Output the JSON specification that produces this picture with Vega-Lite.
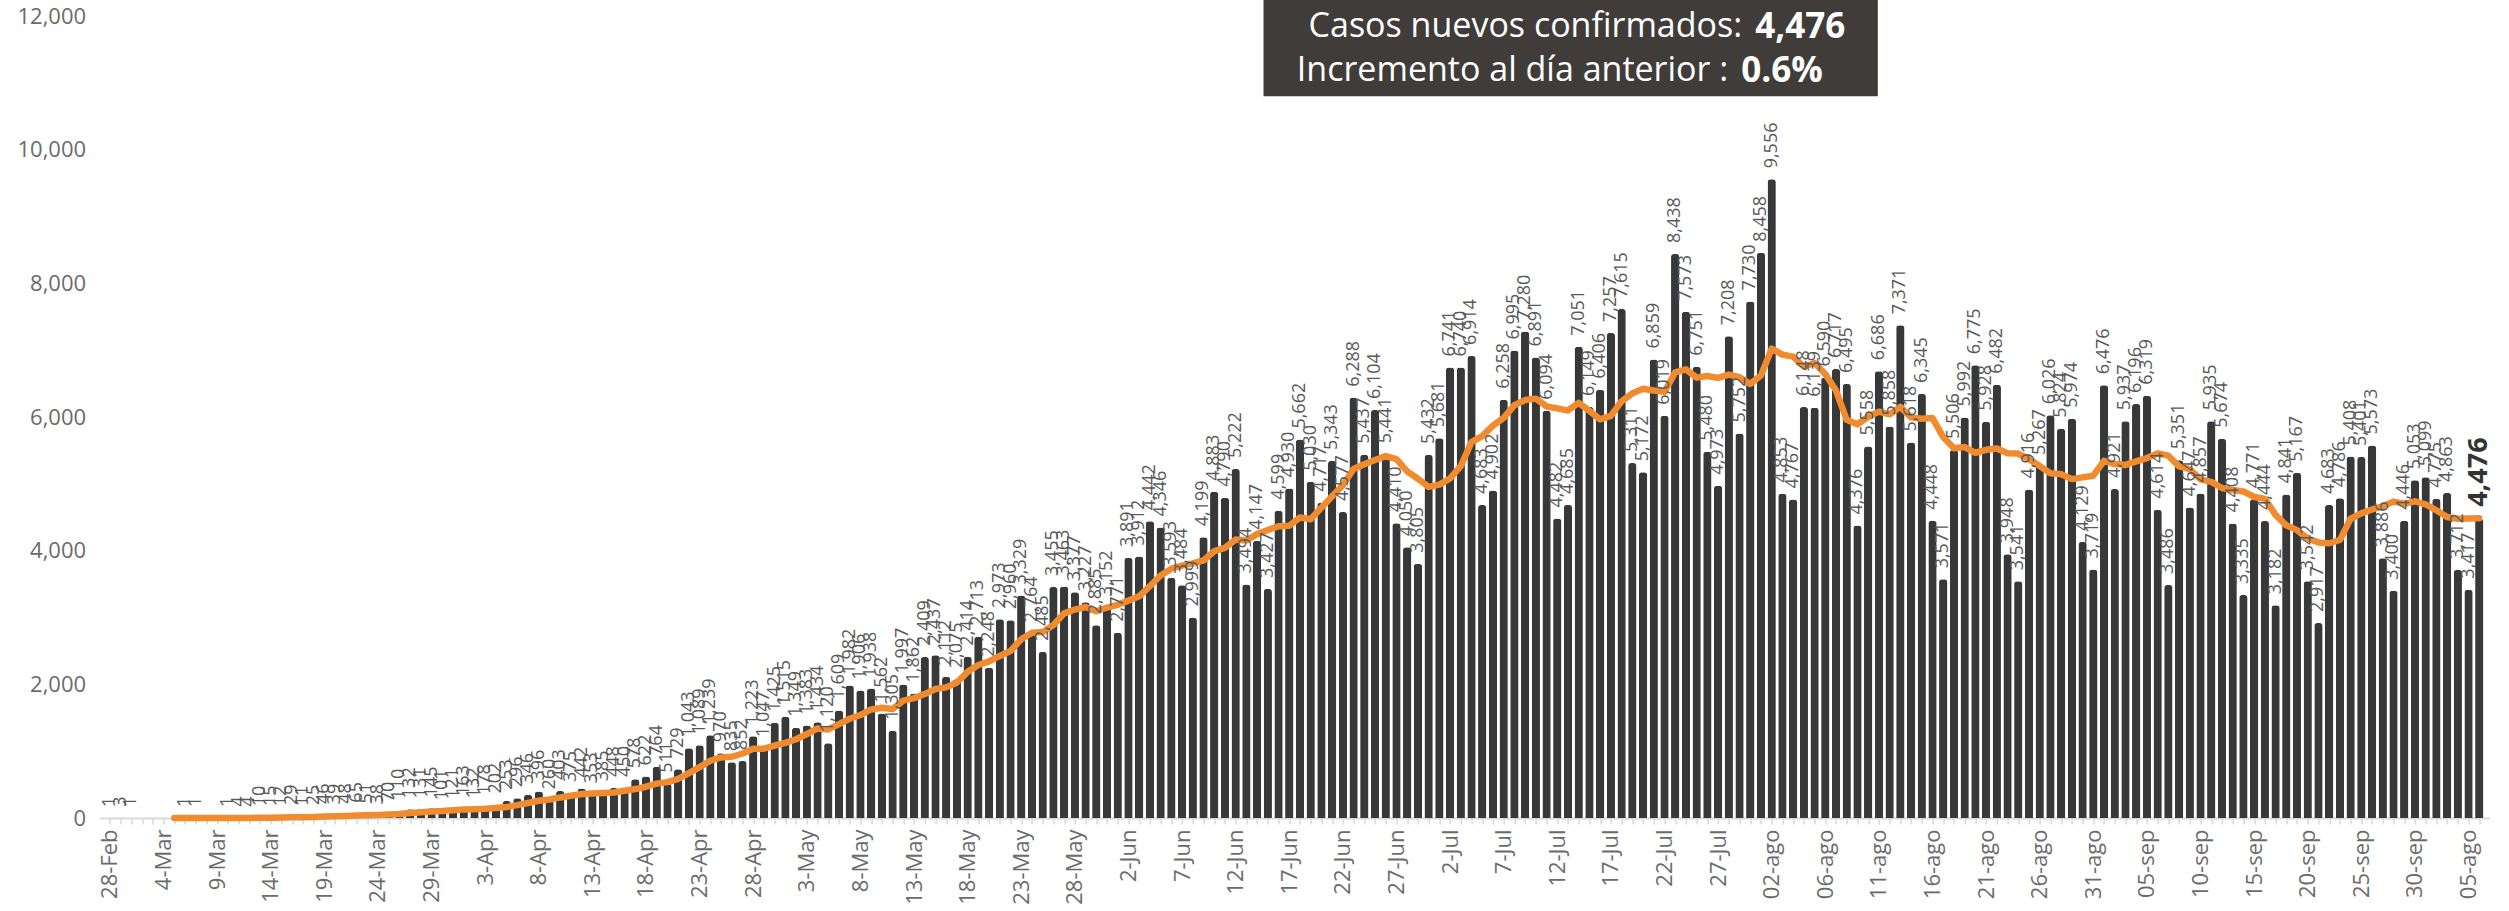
{
"$schema": "https://vega.github.io/schema/vega-lite/v6.json",
"width": 2390, "height": 802,
"autosize": {"type": "none"},
"padding": {"left": 99.6, "top": 16, "right": 19.4, "bottom": 93},
"background": "white",
"config": {"view": {"stroke": null}, "font": "Open Sans", "axis": {"labelOverlap": false, "grid": false}},
"datasets": {
"casos": [
{"i":0,"casos":1},{"i":1,"casos":3},{"i":2,"casos":1},{"i":3,"casos":0},{"i":4,"casos":0},{"i":5,"casos":0},
{"i":6,"casos":0,"prom":0.7},{"i":7,"casos":1,"prom":0.7},{"i":8,"casos":1,"prom":0.4},{"i":9,"casos":0,"prom":0.3},
{"i":10,"casos":0,"prom":0.3},{"i":11,"casos":1,"prom":0.4},{"i":12,"casos":4,"prom":1.0},{"i":13,"casos":4,"prom":1.6},
{"i":14,"casos":10,"prom":2.9},{"i":15,"casos":15,"prom":4.9},{"i":16,"casos":12,"prom":6.6},{"i":17,"casos":29,"prom":10.7},
{"i":18,"casos":11,"prom":12.1},{"i":19,"casos":25,"prom":15.1},{"i":20,"casos":46,"prom":21.1},{"i":21,"casos":39,"prom":25.3},
{"i":22,"casos":48,"prom":30},{"i":23,"casos":65,"prom":37.6},{"i":24,"casos":51,"prom":40.7},{"i":25,"casos":38,"prom":44.6},
{"i":26,"casos":70,"prom":51},{"i":27,"casos":110,"prom":60.1},{"i":28,"casos":132,"prom":73.4},{"i":29,"casos":131,"prom":85.3},
{"i":30,"casos":145,"prom":96.7},{"i":31,"casos":101,"prom":103.9},{"i":32,"casos":121,"prom":115.7},{"i":33,"casos":163,"prom":129},
{"i":34,"casos":132,"prom":132.1},{"i":35,"casos":178,"prom":138.7},{"i":36,"casos":202,"prom":148.9},{"i":37,"casos":253,"prom":164.3},
{"i":38,"casos":296,"prom":192.1},{"i":39,"casos":346,"prom":224.3},{"i":40,"casos":396,"prom":257.6},{"i":41,"casos":260,"prom":275.9},
{"i":42,"casos":403,"prom":308},{"i":43,"casos":375,"prom":332.7},{"i":44,"casos":442,"prom":359.7},{"i":45,"casos":353,"prom":367.9},
{"i":46,"casos":385,"prom":373.4},{"i":47,"casos":448,"prom":380.9},{"i":48,"casos":450,"prom":408},{"i":49,"casos":578,"prom":433},
{"i":50,"casos":622,"prom":468.3},{"i":51,"casos":764,"prom":514.3},{"i":52,"casos":511,"prom":536.9},{"i":53,"casos":729,"prom":586},
{"i":54,"casos":1043,"prom":671},{"i":55,"casos":1089,"prom":762.3},{"i":56,"casos":1239,"prom":856.7},{"i":57,"casos":970,"prom":906.4},
{"i":58,"casos":835,"prom":916.6},{"i":59,"casos":852,"prom":965.3},{"i":60,"casos":1223,"prom":1035.9},{"i":61,"casos":1047,"prom":1036.4},
{"i":62,"casos":1425,"prom":1084.4},{"i":63,"casos":1515,"prom":1123.9},{"i":64,"casos":1349,"prom":1178},{"i":65,"casos":1383,"prom":1256.3},
{"i":66,"casos":1434,"prom":1339.4},{"i":67,"casos":1120,"prom":1324.7},{"i":68,"casos":1609,"prom":1405},{"i":69,"casos":1982,"prom":1484.6},
{"i":70,"casos":1906,"prom":1540.4},{"i":71,"casos":1938,"prom":1624.6},{"i":72,"casos":1562,"prom":1650.1},{"i":73,"casos":1305,"prom":1631.7},
{"i":74,"casos":1997,"prom":1757},{"i":75,"casos":1862,"prom":1793.1},{"i":76,"casos":2409,"prom":1854.1},{"i":77,"casos":2437,"prom":1930},
{"i":78,"casos":2112,"prom":1954.9},{"i":79,"casos":2075,"prom":2028.1},{"i":80,"casos":2414,"prom":2186.6},{"i":81,"casos":2713,"prom":2288.9},
{"i":82,"casos":2248,"prom":2344},{"i":83,"casos":2973,"prom":2424.6},{"i":84,"casos":2960,"prom":2499.3},{"i":85,"casos":3329,"prom":2673.1},
{"i":86,"casos":2764,"prom":2771.6},{"i":87,"casos":2485,"prom":2781.7},{"i":88,"casos":3455,"prom":2887.7},{"i":89,"casos":3463,"prom":3061.3},
{"i":90,"casos":3377,"prom":3119},{"i":91,"casos":3227,"prom":3157.1},{"i":92,"casos":2885,"prom":3093.7},{"i":93,"casos":3152,"prom":3149.1},
{"i":94,"casos":2771,"prom":3190},{"i":95,"casos":3891,"prom":3252.3},{"i":96,"casos":3912,"prom":3316.4},{"i":97,"casos":4442,"prom":3468.6},
{"i":98,"casos":4346,"prom":3628.4},{"i":99,"casos":3593,"prom":3729.6},{"i":100,"casos":3484,"prom":3777},{"i":101,"casos":2999,"prom":3809.6},
{"i":102,"casos":4199,"prom":3853.6},{"i":103,"casos":4883,"prom":3992.3},{"i":104,"casos":4790,"prom":4042},{"i":105,"casos":5222,"prom":4167.1},
{"i":106,"casos":3494,"prom":4153},{"i":107,"casos":4147,"prom":4247.7},{"i":108,"casos":3427,"prom":4308.9},{"i":109,"casos":4599,"prom":4366},
{"i":110,"casos":4930,"prom":4372.7},{"i":111,"casos":5662,"prom":4497.3},{"i":112,"casos":5030,"prom":4469.9},{"i":113,"casos":4717,"prom":4644.6},
{"i":114,"casos":5343,"prom":4815.4},{"i":115,"casos":4577,"prom":4979.7},{"i":116,"casos":6288,"prom":5221},{"i":117,"casos":5437,"prom":5293.4},
{"i":118,"casos":6104,"prom":5356.6},{"i":119,"casos":5441,"prom":5415.3},{"i":120,"casos":4410,"prom":5371.4},{"i":121,"casos":4050,"prom":5186.7},
{"i":122,"casos":3805,"prom":5076.4},{"i":123,"casos":5432,"prom":4954.1},{"i":124,"casos":5681,"prom":4989},{"i":125,"casos":6741,"prom":5080},
{"i":126,"casos":6740,"prom":5265.6},{"i":127,"casos":6914,"prom":5623.3},{"i":128,"casos":4683,"prom":5713.7},{"i":129,"casos":4902,"prom":5870.4},
{"i":130,"casos":6258,"prom":5988.4},{"i":131,"casos":6995,"prom":6176.1},{"i":132,"casos":7280,"prom":6253.1},{"i":133,"casos":6891,"prom":6274.7},
{"i":134,"casos":6094,"prom":6157.6},{"i":135,"casos":4482,"prom":6128.9},{"i":136,"casos":4685,"prom":6097.9},{"i":137,"casos":7051,"prom":6211.1},
{"i":138,"casos":6149,"prom":6090.3},{"i":139,"casos":6406,"prom":5965.4},{"i":140,"casos":7257,"prom":6017.7},{"i":141,"casos":7615,"prom":6235},
{"i":142,"casos":5311,"prom":6353.4},{"i":143,"casos":5172,"prom":6423},{"i":144,"casos":6859,"prom":6395.6},{"i":145,"casos":6019,"prom":6377},
{"i":146,"casos":8438,"prom":6667.3},{"i":147,"casos":7573,"prom":6712.4},{"i":148,"casos":6751,"prom":6589},{"i":149,"casos":5480,"prom":6613.1},
{"i":150,"casos":4973,"prom":6584.7},{"i":151,"casos":7208,"prom":6634.6},{"i":152,"casos":5752,"prom":6596.4},{"i":153,"casos":7730,"prom":6495.3},
{"i":154,"casos":8458,"prom":6621.7},{"i":155,"casos":9556,"prom":7022.4},{"i":156,"casos":4853,"prom":6932.9},{"i":157,"casos":4767,"prom":6903.4},
{"i":158,"casos":6148,"prom":6752},{"i":159,"casos":6139,"prom":6807.3},{"i":160,"casos":6590,"prom":6644.4},{"i":161,"casos":6717,"prom":6395.7},
{"i":162,"casos":6495,"prom":5958.4},{"i":163,"casos":4376,"prom":5890.3},{"i":164,"casos":5558,"prom":6003.3},{"i":165,"casos":6686,"prom":6080.1},
{"i":166,"casos":5858,"prom":6040},{"i":167,"casos":7371,"prom":6151.6},{"i":168,"casos":5618,"prom":5994.6},{"i":169,"casos":6345,"prom":5973.1},
{"i":170,"casos":4448,"prom":5983.4},{"i":171,"casos":3571,"prom":5699.6},{"i":172,"casos":5506,"prom":5531},{"i":173,"casos":5992,"prom":5550.1},
{"i":174,"casos":6775,"prom":5465},{"i":175,"casos":5928,"prom":5509.3},{"i":176,"casos":6482,"prom":5528.9},{"i":177,"casos":3948,"prom":5457.4},
{"i":178,"casos":3541,"prom":5453.1},{"i":179,"casos":4916,"prom":5368.9},{"i":180,"casos":5267,"prom":5265.3},{"i":181,"casos":6026,"prom":5158.3},
{"i":182,"casos":5824,"prom":5143.4},{"i":183,"casos":5974,"prom":5070.9},{"i":184,"casos":4129,"prom":5096.7},{"i":185,"casos":3719,"prom":5122.1},
{"i":186,"casos":6476,"prom":5345},{"i":187,"casos":4921,"prom":5295.6},{"i":188,"casos":5937,"prom":5282.9},{"i":189,"casos":6196,"prom":5336},
{"i":190,"casos":6319,"prom":5385.3},{"i":191,"casos":4614,"prom":5454.6},{"i":192,"casos":3486,"prom":5421.3},{"i":193,"casos":5351,"prom":5260.6},
{"i":194,"casos":4647,"prom":5221.4},{"i":195,"casos":4857,"prom":5067.1},{"i":196,"casos":5935,"prom":5029.9},{"i":197,"casos":5674,"prom":4937.7},
{"i":198,"casos":4408,"prom":4908.3},{"i":199,"casos":3335,"prom":4886.7},{"i":200,"casos":4771,"prom":4803.9},{"i":201,"casos":4444,"prom":4774.9},
{"i":202,"casos":3182,"prom":4535.6},{"i":203,"casos":4841,"prom":4379.3},{"i":204,"casos":5167,"prom":4306.9},{"i":205,"casos":3542,"prom":4183.1},
{"i":206,"casos":2917,"prom":4123.4},{"i":207,"casos":4683,"prom":4110.9},{"i":208,"casos":4786,"prom":4159.7},{"i":209,"casos":5408,"prom":4477.7},
{"i":210,"casos":5401,"prom":4557.7},{"i":211,"casos":5573,"prom":4615.7},{"i":212,"casos":3886,"prom":4664.9},{"i":213,"casos":3400,"prom":4733.9},
{"i":214,"casos":4446,"prom":4700},{"i":215,"casos":5053,"prom":4738.1},{"i":216,"casos":5099,"prom":4694},{"i":217,"casos":4775,"prom":4604.6},
{"i":218,"casos":4863,"prom":4503.1},{"i":219,"casos":3712,"prom":4478.3},{"i":220,"casos":3417,"prom":4480.7},{"i":221,"casos":4476,"prom":4485}
],
"caja": [{"x0":107.6,"x1":164.9,"y0":10800,"y1":12245}],
"textos": [
{"x":152.9,"y":11830,"reg":"Casos nuevos confirmados:","neg":"4,476"},
{"x":151.6,"y":11180,"reg":"Incremento al día anterior :","neg":"0.6%"}
]
},
"layer": [
{"data": {"name": "casos"},
 "mark": {"type": "bar", "size": 8.3, "color": "#383838", "cornerRadiusEnd": 3},
 "encoding": {
  "x": {"field": "i", "type": "quantitative",
        "scale": {"domain": [-0.5, 221.5], "nice": false, "zero": false},
        "axis": {"title": null, "grid": false, "tickCount": 400,
                 "values": [0,1,2,3,4,5,6,7,8,9,10,11,12,13,14,15,16,17,18,19,20,21,22,23,24,25,26,27,28,29,30,31,32,33,34,35,36,37,38,39,40,41,42,43,44,45,46,47,48,49,50,51,52,53,54,55,56,57,58,59,60,61,62,63,64,65,66,67,68,69,70,71,72,73,74,75,76,77,78,79,80,81,82,83,84,85,86,87,88,89,90,91,92,93,94,95,96,97,98,99,100,101,102,103,104,105,106,107,108,109,110,111,112,113,114,115,116,117,118,119,120,121,122,123,124,125,126,127,128,129,130,131,132,133,134,135,136,137,138,139,140,141,142,143,144,145,146,147,148,149,150,151,152,153,154,155,156,157,158,159,160,161,162,163,164,165,166,167,168,169,170,171,172,173,174,175,176,177,178,179,180,181,182,183,184,185,186,187,188,189,190,191,192,193,194,195,196,197,198,199,200,201,202,203,204,205,206,207,208,209,210,211,212,213,214,215,216,217,218,219,220,221],
                 "labelExpr": "datum.value % 5 == 0 ? ['28-Feb','4-Mar','9-Mar','14-Mar','19-Mar','24-Mar','29-Mar','3-Apr','8-Apr','13-Apr','18-Apr','23-Apr','28-Apr','3-May','8-May','13-May','18-May','23-May','28-May','2-Jun','7-Jun','12-Jun','17-Jun','22-Jun','27-Jun','2-Jul','7-Jul','12-Jul','17-Jul','22-Jul','27-Jul','02-ago','06-ago','11-ago','16-ago','21-ago','26-ago','31-ago','05-sep','10-sep','15-sep','20-sep','25-sep','30-sep','05-ago'][datum.value / 5] : ''",
                 "labelOverlap": false, "labelAngle": 270, "labelAlign": "right", "labelBaseline": "middle",
                 "labelFontSize": 22, "labelColor": "#6b6b6b", "labelPadding": 5, "labelFlush": false, "labelBound": false,
                 "domainColor": "#d9d9d9", "domainWidth": 2, "tickColor": "#d9d9d9", "tickSize": 6, "tickWidth": 1.5}},
  "y": {"field": "casos", "type": "quantitative",
        "scale": {"domain": [0, 12000], "nice": false},
        "axis": {"title": null, "grid": false, "domain": false, "ticks": false,
                 "values": [0,2000,4000,6000,8000,10000,12000], "format": ",d",
                 "labelFontSize": 22, "labelColor": "#6b6b6b", "labelPadding": 14}}
 }},
{"data": {"name": "casos"},
 "mark": {"type": "line", "color": "#F08C2F", "strokeWidth": 6.5, "strokeJoin": "round", "strokeCap": "round"},
 "encoding": {
  "x": {"field": "i", "type": "quantitative"},
  "y": {"field": "prom", "type": "quantitative"}
 }},
{"data": {"name": "casos"},
 "transform": [{"filter": "datum.casos > 0 && datum.i < 221"}],
 "mark": {"type": "text", "angle": 270, "align": "left", "baseline": "middle", "dx": 11, "fontSize": 18, "color": "#595959"},
 "encoding": {
  "x": {"field": "i", "type": "quantitative"},
  "y": {"field": "casos", "type": "quantitative"},
  "text": {"field": "casos", "type": "quantitative", "format": ",d"}
 }},
{"data": {"name": "casos"},
 "transform": [{"filter": "datum.i == 221"}],
 "mark": {"type": "text", "angle": 270, "align": "left", "baseline": "middle", "dx": 12, "fontSize": 27, "fontWeight": "bold", "color": "#333333"},
 "encoding": {
  "x": {"field": "i", "type": "quantitative"},
  "y": {"field": "casos", "type": "quantitative"},
  "text": {"field": "casos", "type": "quantitative", "format": ",d"}
 }},
{"data": {"name": "caja"},
 "mark": {"type": "rect", "color": "#403c3a"},
 "encoding": {
  "x": {"field": "x0", "type": "quantitative"}, "x2": {"field": "x1"},
  "y": {"field": "y0", "type": "quantitative"}, "y2": {"field": "y1"}
 }},
{"data": {"name": "textos"},
 "mark": {"type": "text", "align": "right", "baseline": "middle", "dx": -7, "fontSize": 34, "fontWeight": 500, "color": "white"},
 "encoding": {
  "x": {"field": "x", "type": "quantitative"},
  "y": {"field": "y", "type": "quantitative"},
  "text": {"field": "reg"}
 }},
{"data": {"name": "textos"},
 "mark": {"type": "text", "align": "left", "baseline": "middle", "dx": 6, "fontSize": 35, "fontWeight": "bold", "color": "white"},
 "encoding": {
  "x": {"field": "x", "type": "quantitative"},
  "y": {"field": "y", "type": "quantitative"},
  "text": {"field": "neg"}
 }}
]
}
